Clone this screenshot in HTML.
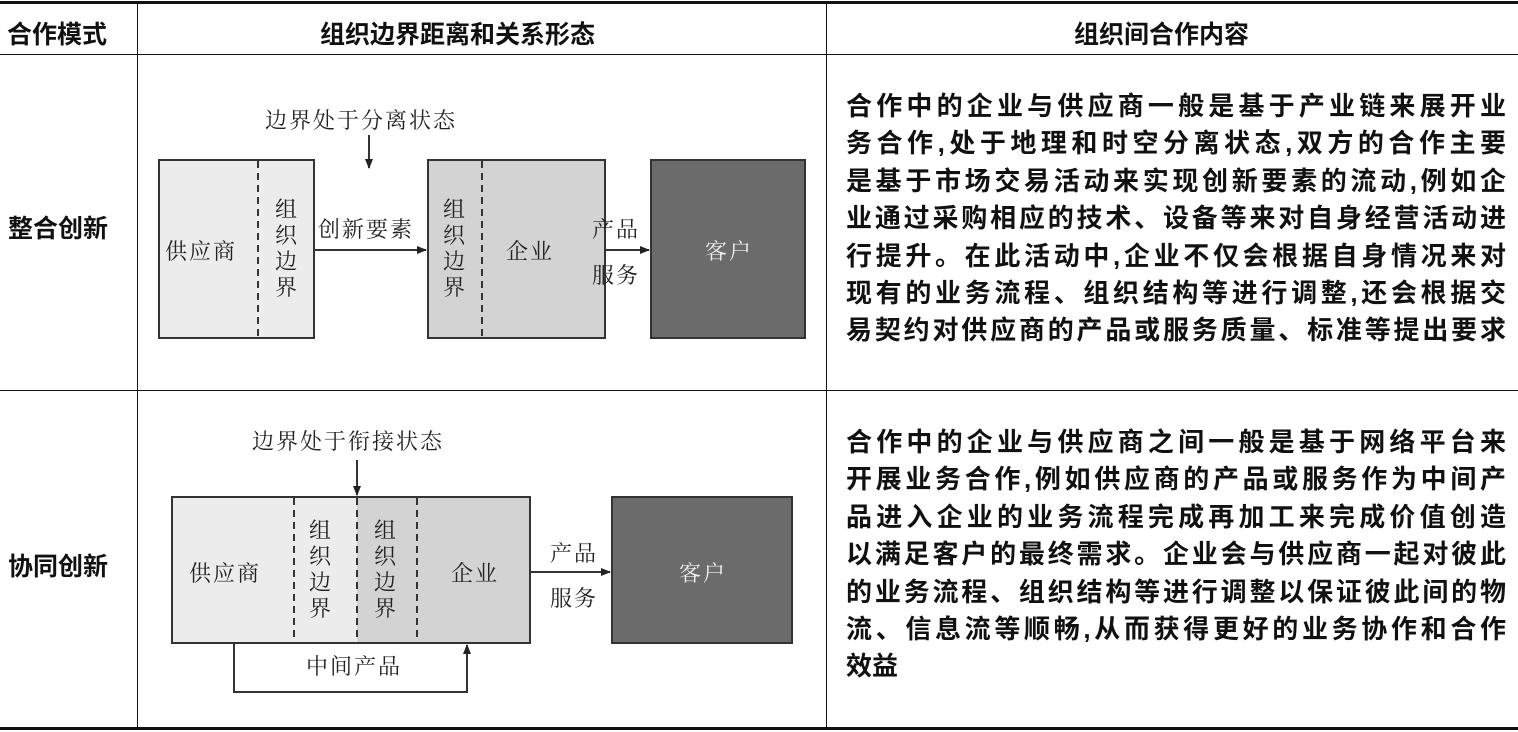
<!DOCTYPE html>
<html><head><meta charset="utf-8"><style>
body{margin:0;width:1518px;height:732px;background:#fff;position:relative;overflow:hidden;font-family:"Liberation Sans","Noto Sans CJK SC",sans-serif;}
.a{position:absolute}
.h{font-weight:bold;font-size:25px;color:#111;white-space:nowrap}
.t{position:absolute;left:846px;width:660px;font-weight:bold;font-size:26px;color:#111;}
.t div{height:37.4px;line-height:37.4px;text-align:justify;text-align-last:justify;white-space:nowrap}
.t div.l{text-align-last:left}
.s{font-family:"Noto Serif CJK SC","Liberation Serif",serif;font-size:22px;letter-spacing:2px;color:#222;white-space:nowrap}
.v{width:22px;line-height:26px;white-space:normal;letter-spacing:0}
</style></head><body>
<div class="a" style="left:0;top:1px;width:1518px;height:3px;background:#111"></div>
<div class="a" style="left:0;top:54px;width:1518px;height:1px;background:#111"></div>
<div class="a" style="left:0;top:390px;width:1518px;height:1px;background:#111"></div>
<div class="a" style="left:0;top:727px;width:1518px;height:3px;background:#111"></div>
<div class="a" style="left:137px;top:2px;width:1px;height:727px;background:#111"></div>
<div class="a" style="left:826px;top:2px;width:1px;height:727px;background:#111"></div>
<div class="a h" style="left:7px;top:15px">合作模式</div>
<div class="a h" style="left:320px;top:15px">组织边界距离和关系形态</div>
<div class="a h" style="left:1074px;top:15px">组织间合作内容</div>
<div class="a h" style="left:8px;top:209px">整合创新</div>
<div class="a h" style="left:8px;top:547px">协同创新</div>
<div class="t" style="top:88px">
<div>合作中的企业与供应商一般是基于产业链来展开业</div>
<div>务合作,处于地理和时空分离状态,双方的合作主要</div>
<div>是基于市场交易活动来实现创新要素的流动,例如企</div>
<div>业通过采购相应的技术、设备等来对自身经营活动进</div>
<div>行提升。在此活动中,企业不仅会根据自身情况来对</div>
<div>现有的业务流程、组织结构等进行调整,还会根据交</div>
<div>易契约对供应商的产品或服务质量、标准等提出要求</div>
</div>
<div class="t" style="top:424px">
<div>合作中的企业与供应商之间一般是基于网络平台来</div>
<div>开展业务合作,例如供应商的产品或服务作为中间产</div>
<div>品进入企业的业务流程完成再加工来完成价值创造</div>
<div>以满足客户的最终需求。企业会与供应商一起对彼此</div>
<div>的业务流程、组织结构等进行调整以保证彼此间的物</div>
<div>流、信息流等顺畅,从而获得更好的业务协作和合作</div>
<div class="l">效益</div>
</div>
<svg class="a" style="left:0;top:0" width="1518" height="732">
<defs><marker id="m" markerWidth="10" markerHeight="8" refX="9" refY="4" orient="auto" markerUnits="userSpaceOnUse"><path d="M0,0L10,4L0,8z" fill="#222"/></marker></defs>
<g stroke="#333" stroke-width="2">
<rect x="159" y="160" width="155" height="178" fill="#ececec"/>
<rect x="428" y="160" width="177" height="178" fill="#d3d3d3"/>
<rect x="651" y="160" width="154" height="178" fill="#6b6b6b"/>
<line x1="258" y1="161" x2="258" y2="337" stroke-dasharray="7,5"/>
<line x1="482" y1="161" x2="482" y2="337" stroke-dasharray="7,5"/>
<line x1="369" y1="135" x2="369" y2="168" marker-end="url(#m)"/>
<line x1="314" y1="250" x2="426" y2="250" marker-end="url(#m)"/>
<line x1="605" y1="250" x2="649" y2="250" marker-end="url(#m)"/>
<rect x="172" y="497" width="358" height="146" fill="#ececec"/>
<rect x="357" y="498" width="173" height="144" fill="#d3d3d3" stroke="none"/>
<rect x="172" y="497" width="358" height="146" fill="none"/>
<rect x="612" y="497" width="180" height="146" fill="#6b6b6b"/>
<line x1="294" y1="498" x2="294" y2="642" stroke-dasharray="7,5"/>
<line x1="357" y1="498" x2="357" y2="642" stroke-dasharray="7,5"/>
<line x1="417" y1="498" x2="417" y2="642" stroke-dasharray="7,5"/>
<line x1="357" y1="460" x2="357" y2="495" marker-end="url(#m)"/>
<line x1="530" y1="572" x2="610" y2="572" marker-end="url(#m)"/>
<polyline points="234,643 234,692 467,692 467,645" fill="none" marker-end="url(#m)"/>
</g>
</svg>
<div class="a s" style="left:265px;top:104px">边界处于分离状态</div>
<div class="a s" style="left:165px;top:235px">供应商</div>
<div class="a s v" style="left:275px;top:196px">组织边界</div>
<div class="a s" style="left:318px;top:213px">创新要素</div>
<div class="a s v" style="left:443px;top:196px">组织边界</div>
<div class="a s" style="left:506px;top:235px">企业</div>
<div class="a s" style="left:592px;top:213px">产品</div>
<div class="a s" style="left:592px;top:259px">服务</div>
<div class="a s" style="left:705px;top:235px;color:#eee">客户</div>
<div class="a s" style="left:252px;top:425px">边界处于衔接状态</div>
<div class="a s" style="left:189px;top:557px">供应商</div>
<div class="a s v" style="left:309px;top:517px">组织边界</div>
<div class="a s v" style="left:374px;top:517px">组织边界</div>
<div class="a s" style="left:451px;top:557px">企业</div>
<div class="a s" style="left:550px;top:537px">产品</div>
<div class="a s" style="left:550px;top:582px">服务</div>
<div class="a s" style="left:679px;top:557px;color:#eee">客户</div>
<div class="a s" style="left:306px;top:650px">中间产品</div>
</body></html>
